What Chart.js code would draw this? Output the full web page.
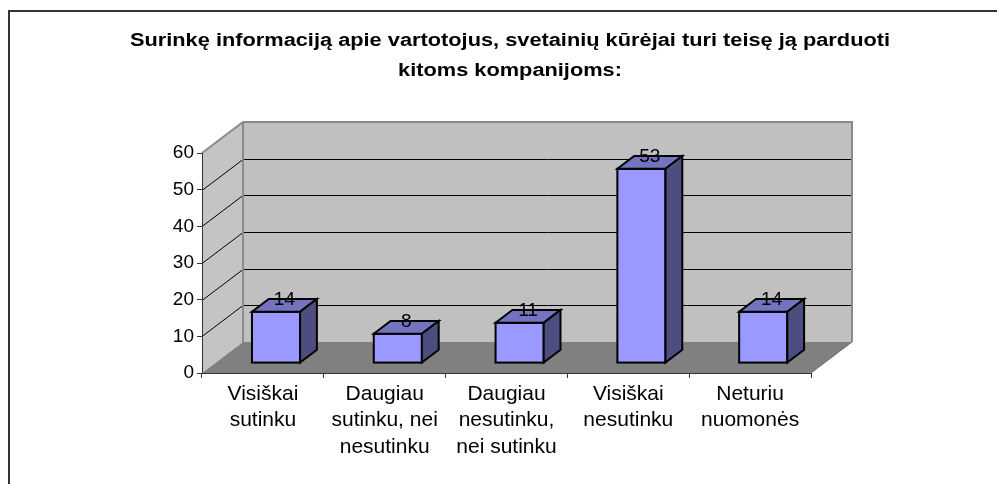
<!DOCTYPE html>
<html>
<head>
<meta charset="utf-8">
<script src="https://cdn.jsdelivr.net/npm/chart.js@4.4.1/dist/chart.umd.min.js"></script>
<style>
    html, body { margin: 0; padding: 0; background: #fff; }
    #wrap { width: 997px; height: 484px; }
</style>
</head>
<body>
<div id="wrap"><canvas id="chart" width="997" height="484"></canvas></div>
<script>
/* Survey chart: 3D column look, redrawn on top of a plain Chart.js bar chart */

const categories = [
    ['Visiškai', 'sutinku'],
    ['Daugiau', 'sutinku, nei', 'nesutinku'],
    ['Daugiau', 'nesutinku,', 'nei sutinku'],
    ['Visiškai', 'nesutinku'],
    ['Neturiu', 'nuomonės']
];
const answers = [14, 8, 11, 53, 14];
const yTicks = [0, 10, 20, 30, 40, 50, 60];
const titleLines = [
    'Surinkę informaciją apie vartotojus, svetainių kūrėjai turi teisę ją parduoti',
    'kitoms kompanijoms:'
];

const FONT = "'Liberation Sans', Arial, sans-serif";
const DX = 41, DY = -31;            // depth of the 3D box
const BAR_FRONT = 0.32, BAR_DEPTH = 0.41;

function poly(ctx, pts) {
    ctx.beginPath();
    ctx.moveTo(pts[0][0], pts[0][1]);
    for (let i = 1; i < pts.length; i++) ctx.lineTo(pts[i][0], pts[i][1]);
    ctx.closePath();
}

const box3d = {
    id: 'box3d',
    beforeDraw(chart) {
        const { ctx, chartArea: a, scales: { y } } = chart;
        ctx.save();

        // outer frame (only left and top show)
        ctx.strokeStyle = '#333';
        ctx.lineWidth = 2;
        ctx.beginPath();
        ctx.moveTo(9, 484);
        ctx.lineTo(9, 11);
        ctx.lineTo(997, 11);
        ctx.stroke();

        // title, the original is a bit wide-set
        ctx.save();
        ctx.fillStyle = '#000';
        ctx.font = `bold 18px ${FONT}`;
        ctx.textAlign = 'center';
        ctx.textBaseline = 'alphabetic';
        ctx.translate(510, 0);
        ctx.scale(1.21, 1);
        ctx.fillText(titleLines[0], 0, 46);
        ctx.fillText(titleLines[1], 0, 75.5);
        ctx.restore();

        // walls and floor
        ctx.fillStyle = '#c4c4c4';
        poly(ctx, [[a.left, a.top], [a.left + DX, a.top + DY], [a.left + DX, a.bottom + DY], [a.left, a.bottom]]);
        ctx.fill();
        ctx.fillStyle = '#c0c0c0';
        ctx.fillRect(a.left + DX, a.top + DY, a.right - a.left, a.bottom - a.top);
        ctx.fillStyle = '#808080';
        poly(ctx, [[a.left, a.bottom], [a.left + DX, a.bottom + DY], [a.right + DX, a.bottom + DY], [a.right, a.bottom]]);
        ctx.fill();

        // grid lines on left and back wall
        ctx.strokeStyle = '#000';
        ctx.lineWidth = 1;
        yTicks.forEach((v) => {
            if (v === yTicks[0] || v === yTicks[yTicks.length - 1]) return;
            const py = Math.round(y.getPixelForValue(v)) + 0.5;
            ctx.beginPath();
            ctx.moveTo(a.left, py);
            ctx.lineTo(a.left + DX, py + DY);
            ctx.lineTo(a.right + DX, py + DY);
            ctx.stroke();
        });

        // wall edges
        ctx.strokeStyle = '#8a8a8a';
        ctx.lineWidth = 2;
        ctx.beginPath();
        ctx.moveTo(a.left, a.top);
        ctx.lineTo(a.left + DX, a.top + DY);
        ctx.lineTo(a.right + DX, a.top + DY);
        ctx.lineTo(a.right + DX, a.bottom + DY);
        ctx.moveTo(a.left + DX, a.top + DY);
        ctx.lineTo(a.left + DX, a.bottom + DY);
        ctx.stroke();
        ctx.strokeStyle = '#6a6a6a';
        ctx.lineWidth = 1;
        ctx.beginPath();
        ctx.moveTo(a.right + DX, a.bottom + DY);
        ctx.lineTo(a.right, a.bottom);
        ctx.stroke();
        ctx.restore();
    },
    afterDatasetsDraw(chart) {
        const { ctx } = chart;
        const meta = chart.getDatasetMeta(0);
        ctx.save();
        ctx.lineWidth = 2;
        ctx.lineJoin = 'miter';
        ctx.strokeStyle = '#000';
        meta.data.forEach((el, i) => {
            const w = el.width;
            const x0 = el.x - w / 2 + BAR_FRONT * DX;
            const yb = el.base + BAR_FRONT * DY;
            const yt = el.y + BAR_FRONT * DY;
            const ddx = BAR_DEPTH * DX, ddy = BAR_DEPTH * DY;

            ctx.fillStyle = '#9999ff';
            ctx.fillRect(x0, yt, w, yb - yt);
            ctx.strokeRect(x0, yt, w, yb - yt);

            ctx.fillStyle = '#7373bf';
            poly(ctx, [[x0, yt], [x0 + ddx, yt + ddy], [x0 + w + ddx, yt + ddy], [x0 + w, yt]]);
            ctx.fill();
            ctx.stroke();

            ctx.fillStyle = '#4d4d80';
            poly(ctx, [[x0 + w, yt], [x0 + w + ddx, yt + ddy], [x0 + w + ddx, yb + ddy], [x0 + w, yb]]);
            ctx.fill();
            ctx.stroke();

            ctx.fillStyle = '#000';
            ctx.font = `19px ${FONT}`;
            ctx.textAlign = 'center';
            ctx.textBaseline = 'middle';
            ctx.fillText(String(answers[i]), x0 + w / 2 + ddx / 2, yt + ddy + 1);
        });
        ctx.restore();
    }
};

new Chart(document.getElementById('chart'), {
    type: 'bar',
    data: {
        labels: categories,
        datasets: [{
            data: answers,
            backgroundColor: 'rgba(0,0,0,0)',
            borderWidth: 0,
            categoryPercentage: 1,
            barPercentage: 0.395
        }]
    },
    options: {
        responsive: false,
        devicePixelRatio: 1,
        animation: false,
        layout: { padding: { left: 0, top: 153, right: 186, bottom: 0 } },
        plugins: {
            legend: { display: false },
            title: { display: false },
            tooltip: { enabled: false }
        },
        scales: {
            x: {
                grid: { offset: true, drawOnChartArea: false, drawTicks: true, tickLength: 5, color: '#333' },
                border: { color: '#333', width: 1 },
                ticks: {
                    color: '#000',
                    font: { family: FONT, size: 21, lineHeight: 1.26 },
                    maxRotation: 0,
                    autoSkip: false,
                    padding: 3
                },
                afterFit(scale) { scale.height = 111; }
            },
            y: {
                min: 0,
                max: 60,
                grid: { drawOnChartArea: false, drawTicks: true, tickLength: 5, color: '#333' },
                border: { color: '#333', width: 1 },
                ticks: {
                    stepSize: 10,
                    color: '#000',
                    font: { family: FONT, size: 19 },
                    padding: 3
                },
                afterFit(scale) { scale.width = 202; }
            }
        }
    },
    plugins: [box3d]
});
</script>
</body>
</html>
